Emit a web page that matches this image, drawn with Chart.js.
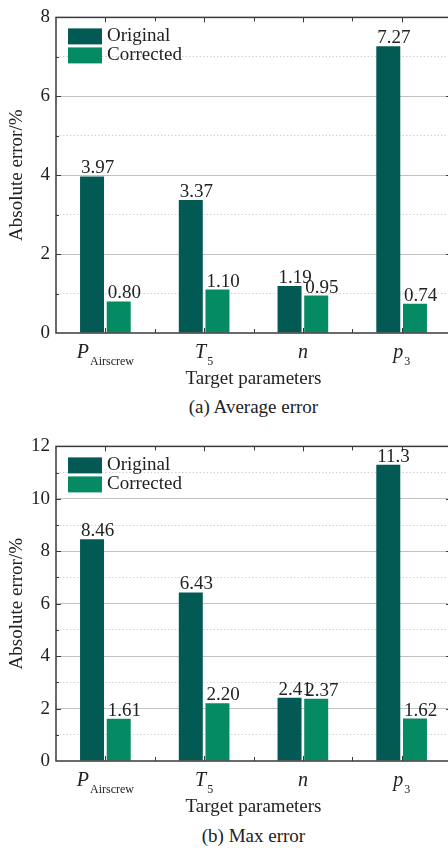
<!DOCTYPE html>
<html>
<head>
<meta charset="utf-8">
<script src="https://cdn.jsdelivr.net/npm/chart.js@4.4.1/dist/chart.umd.min.js"></script>
<style>
html, body { margin: 0; padding: 0; background: #fff; overflow: hidden; width: 448px; height: 851px; }
.panel { position: absolute; left: 0; width: 452px; }
.caption { position: absolute; left: 56px; width: 395px; height: 24px; line-height: 24px; text-align: center;
  font: 19px "Liberation Serif", "Times New Roman", serif; color: #222; }
</style>
</head>
<body>
<div class="panel" style="top:0;height:393px"><canvas id="avgChart"></canvas></div>
<div class="caption" style="top:396px">(a) Average error</div>
<div class="panel" style="top:429px;height:392px"><canvas id="maxChart"></canvas></div>
<div class="caption" style="top:825px">(b) Max error</div>
<script>
// categories: main symbol + subscript
const paramSymbols = ['P', 'T', 'n', 'p'];
const paramSubscripts = ['Airscrew', '5', '', '3'];

// (a) average error, %
const avgOriginal = [3.97, 3.37, 1.19, 7.27];
const avgCorrected = [0.80, 1.10, 0.95, 0.74];

// (b) max error, %
const maxOriginal = [8.46, 6.43, 2.41, 11.3];
const maxCorrected = [1.61, 2.20, 2.37, 1.62];

const avgAxisMax = 8;
const maxAxisMax = 12;

const SERIF = '"Liberation Serif", "Times New Roman", serif';
const TEXT = '#222';
const FRAME = '#3a3a3a';

/**
 * Frame around the plot area with inward ticks
 */
const framePlugin = {
    id: 'frame',
    afterDatasetsDraw(chart) {
        const { ctx, chartArea: a, scales } = chart;
        const x = scales.x, y = scales.y;
        ctx.save();
        ctx.strokeStyle = FRAME;
        ctx.lineWidth = 1.5;
        ctx.strokeRect(a.left, a.top, a.right - a.left, a.bottom - a.top);
        ctx.lineWidth = 1;
        ctx.beginPath();
        for (let v = y.min + 1; v < y.max; v++) {
            const py = Math.round(y.getPixelForValue(v)) + 0.5;
            const len = v % 2 ? 3 : 5;
            ctx.moveTo(a.left, py); ctx.lineTo(a.left + len, py);
            ctx.moveTo(a.right, py); ctx.lineTo(a.right - len, py);
        }
        const n = chart.data.labels.length;
        const step = (a.right - a.left) / n;
        for (let i = 0; i < n; i++) {
            const cx = Math.round(x.getPixelForValue(i)) + 0.5;
            ctx.moveTo(cx, a.top); ctx.lineTo(cx, a.top + 5);
            ctx.moveTo(cx, a.bottom); ctx.lineTo(cx, a.bottom - 5);
            if (i > 0) {
                const bx = Math.round(a.left + step * i) + 0.5;
                ctx.moveTo(bx, a.top); ctx.lineTo(bx, a.top + 4);
                ctx.moveTo(bx, a.bottom); ctx.lineTo(bx, a.bottom - 4);
            }
        }
        ctx.stroke();
        ctx.restore();
    }
};

/**
 * Value above each bar, left aligned to the bar
 */
const valueLabelPlugin = {
    id: 'valueLabels',
    afterDatasetsDraw(chart) {
        const { ctx } = chart;
        ctx.save();
        ctx.font = '19px ' + SERIF;
        ctx.fillStyle = TEXT;
        ctx.textAlign = 'left';
        ctx.textBaseline = 'alphabetic';
        chart.data.datasets.forEach((ds, di) => {
            chart.getDatasetMeta(di).data.forEach((bar, i) => {
                const v = ds.data[i];
                const txt = v >= 10 ? v.toFixed(1) : v.toFixed(2);
                ctx.fillText(txt, bar.x - bar.width / 2 + 1, bar.y - 3);
            });
        });
        ctx.restore();
    }
};

/**
 * Category labels with italic symbol and subscript
 */
const paramLabelPlugin = {
    id: 'paramLabels',
    afterDraw(chart) {
        const { ctx, chartArea: a, scales } = chart;
        const base = a.bottom + 25;
        ctx.save();
        ctx.fillStyle = TEXT;
        ctx.textBaseline = 'alphabetic';
        ctx.textAlign = 'left';
        paramSymbols.forEach((sym, i) => {
            const sub = paramSubscripts[i];
            ctx.font = 'italic 20px ' + SERIF;
            const wMain = ctx.measureText(sym).width;
            ctx.font = '12px ' + SERIF;
            const wSub = sub ? ctx.measureText(sub).width + 1 : 0;
            const start = scales.x.getPixelForValue(i) - (wMain + wSub) / 2;
            ctx.font = 'italic 20px ' + SERIF;
            ctx.fillText(sym, start, base);
            if (sub) {
                ctx.font = '12px ' + SERIF;
                ctx.fillText(sub, start + wMain + 1, base + 7);
            }
        });
        ctx.restore();
    }
};

/**
 * Legend inside the plot, top left
 */
const boxLegendPlugin = {
    id: 'boxLegend',
    afterDatasetsDraw(chart) {
        const { ctx, chartArea: a } = chart;
        ctx.save();
        ctx.font = '19px ' + SERIF;
        ctx.textBaseline = 'middle';
        ctx.textAlign = 'left';
        chart.data.datasets.forEach((ds, i) => {
            const top = a.top + 11 + i * 19;
            ctx.fillStyle = ds.backgroundColor;
            ctx.fillRect(a.left + 12, top, 34, 16);
            ctx.fillStyle = TEXT;
            ctx.fillText(ds.label, a.left + 51, top + 8);
        });
        ctx.restore();
    }
};

function makeChart(id, original, corrected, axisMax) {
    const canvas = document.getElementById(id);
    return new Chart(canvas.getContext('2d'), {
        type: 'bar',
        data: {
            labels: paramSymbols.map((s, i) => s + paramSubscripts[i]),
            datasets: [
                {
                    label: 'Original',
                    data: original,
                    backgroundColor: '#035954',
                    categoryPercentage: 0.54,
                    barPercentage: 0.9
                },
                {
                    label: 'Corrected',
                    data: corrected,
                    backgroundColor: '#058b63',
                    categoryPercentage: 0.54,
                    barPercentage: 0.9
                }
            ]
        },
        options: {
            responsive: true,
            maintainAspectRatio: false,
            animation: false,
            layout: { padding: { top: 16, right: 1, left: 0, bottom: 0 } },
            plugins: {
                legend: { display: false },
                tooltip: { enabled: false }
            },
            scales: {
                x: {
                    grid: { display: false },
                    border: { display: false },
                    ticks: { display: false },
                    title: {
                        display: true,
                        text: 'Target parameters',
                        color: TEXT,
                        font: { family: SERIF, size: 19 },
                        padding: { top: 0, bottom: 3 }
                    },
                    afterFit(s) { s.height = 60; }
                },
                y: {
                    min: 0,
                    max: axisMax,
                    ticks: {
                        stepSize: 1,
                        autoSkip: false,
                        color: TEXT,
                        padding: 6,
                        font: { family: SERIF, size: 19 },
                        callback: v => (v % 2 === 0 ? v : '')
                    },
                    grid: {
                        drawTicks: false,
                        lineWidth: 1,
                        color: c => {
                            const v = c.tick ? c.tick.value : 0;
                            if (v === 0 || v === axisMax) return 'rgba(0,0,0,0)';
                            return v % 2 ? '#d2d2d2' : '#c2c2c2';
                        }
                    },
                    border: {
                        display: false,
                        dash: c => (c.tick && c.tick.value % 2 ? [1.5, 2] : [])
                    },
                    title: {
                        display: true,
                        text: 'Absolute error/%',
                        color: TEXT,
                        font: { family: SERIF, size: 19 },
                        padding: { top: 6, bottom: 0 }
                    },
                    afterFit(s) { s.width = 56; }
                }
            }
        },
        plugins: [framePlugin, valueLabelPlugin, paramLabelPlugin, boxLegendPlugin]
    });
}

makeChart('avgChart', avgOriginal, avgCorrected, avgAxisMax);
makeChart('maxChart', maxOriginal, maxCorrected, maxAxisMax);
</script>
</body>
</html>
